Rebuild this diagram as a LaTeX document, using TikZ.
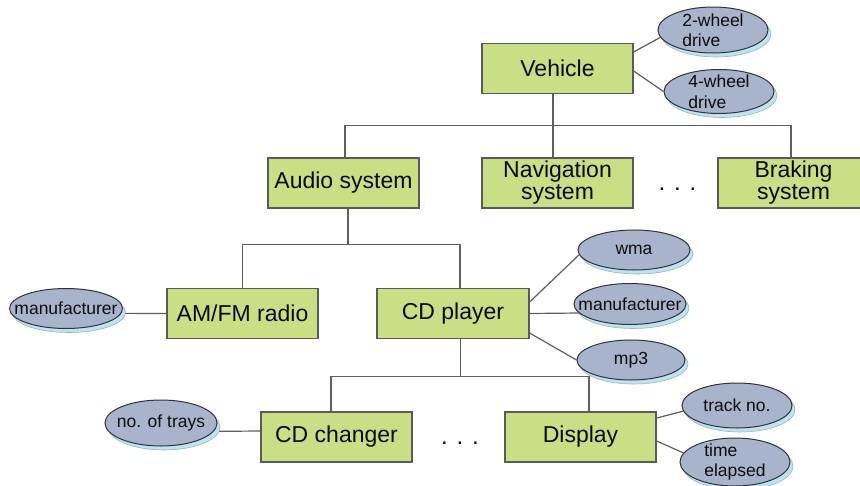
\documentclass[tikz,border=0pt]{standalone}
\usepackage{fontspec}
\setmainfont{Liberation Sans}
\usetikzlibrary{shapes.geometric,shadows}
\definecolor{boxfill}{RGB}{202,222,134}
\definecolor{boxdraw}{RGB}{90,90,90}
\definecolor{ellfill}{RGB}{168,180,204}
\definecolor{elldraw}{RGB}{50,50,62}
\definecolor{shadowc}{RGB}{190,228,240}
\definecolor{linec}{RGB}{95,95,95}
\definecolor{txt}{RGB}{10,10,10}
\pgfdeclarelayer{bg}
\pgfsetlayers{bg,main}
\begin{document}
\begin{tikzpicture}[x=1pt,y=-1pt,
  box/.style={rectangle,draw=boxdraw,line width=1.2pt,fill=boxfill,
    minimum width=151pt,minimum height=50pt,inner sep=0pt,align=center,
    font=\fontsize{23}{22}\selectfont,text=txt},
  attr/.style={ellipse,draw=elldraw,line width=1pt,fill=ellfill,
    inner xsep=-14pt,inner ysep=-12pt,minimum width=112pt,minimum height=44pt,
    align=left,font=\fontsize{17.5}{20.5}\selectfont,text=txt,
    copy shadow={shadow xshift=3pt,shadow yshift=-4pt,fill=shadowc,
      draw=shadowc!80!black,line width=0.6pt}},
  conn/.style={draw=linec,line width=1.2pt},
  dots/.style={font=\fontsize{24}{24}\selectfont,text=txt,inner sep=0pt}]
\begin{pgfonlayer}{bg}
\fill[white] (0,0) rectangle (860,485);
\end{pgfonlayer}
\useasboundingbox (0,0) rectangle (860,485);

% boxes
\node[box] (veh) at (557.5,68.5) {Vehicle};
\node[box] (audio) at (343.5,183) {Audio system};
\node[box] (nav) at (557.5,183) {Navigation\\system};
\node[box] (brak) at (793.5,183) {Braking\\system};
\node[dots] (d1) at (677.5,189) {. . .};
\node[box] (amfm) at (242.5,313.5) {AM/FM radio};
\node[box,minimum width=152pt] (cdp) at (453,313.5) {CD player};
\node[box] (cdc) at (336.5,437) {CD changer};
\node[box] (disp) at (580.5,437) {Display};
\node[dots] (d2) at (460,443) {. . .};

% attributes
\node[attr,minimum height=46pt,minimum width=110pt] (tw) at (713,30) {2-wheel\\drive};
\node[attr,minimum height=44pt,minimum width=110pt] (fw) at (719,91.5) {4-wheel\\drive};
\node[attr,minimum height=40pt] (wma) at (634,250) {wma};
\node[attr,minimum height=41pt] (man2) at (630,304) {manufacturer};
\node[attr,minimum height=40pt,minimum width=108pt] (mp3) at (631,360) {mp3};
\node[attr,minimum height=40pt,minimum width=113pt] (manL) at (66,308.5) {manufacturer};
\node[attr,minimum height=46pt] (trays) at (161,423) {no. of trays};
\node[attr,minimum height=45pt,minimum width=110pt] (track) at (737,405.5) {track no.};
\node[attr,minimum height=48pt,minimum width=110pt] (time) at (735,462) {time\\elapsed};

\begin{pgfonlayer}{bg}
% hierarchy
\draw[conn] ([xshift=-4.5pt]veh.south) -- ([xshift=-4.5pt]nav.north);
\draw[conn] ([xshift=1.5pt]audio.north) -- ++(0,-32) -| ([xshift=-2.5pt]brak.north);
\draw[conn] ([xshift=4.5pt]audio.south) -- ++(0,36) coordinate (b2);
\draw[conn] (amfm.north) |- (b2) -| ([xshift=7pt]cdp.north);
\draw[conn] ([xshift=7.5pt]cdp.south) -- ++(0,37) coordinate (b3);
\draw[conn] ([xshift=-5.5pt]cdc.north) |- (b3) -| ([xshift=8.5pt]disp.north);
% attribute links
\draw[conn] ([yshift=16.5pt]veh.east) -- (tw.188);
\draw[conn] ([yshift=-2.5pt]veh.east) -- (fw.180);
\draw[conn] ([yshift=11.5pt]cdp.east) -- (wma.185);
\draw[conn] (cdp.east) -- (man2.190);
\draw[conn] ([yshift=-19.5pt]cdp.east) -- (mp3.west);
\draw[conn] (amfm.west) -- (manL.355);
\draw[conn] ([yshift=6pt]cdc.west) -- (trays.351);
\draw[conn] ([yshift=19pt]disp.east) -- (track.186);
\draw[conn] ([yshift=-4pt]disp.east) -- (time.170);
\end{pgfonlayer}
\end{tikzpicture}
\end{document}
